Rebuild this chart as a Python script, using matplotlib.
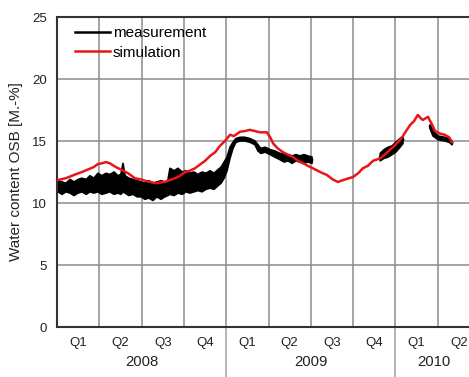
import numpy as np
import matplotlib
matplotlib.use("Agg")
import matplotlib.pyplot as plt
from matplotlib.transforms import blended_transform_factory

plt.rcParams['font.family'] = ['Liberation Sans', 'DejaVu Sans']

# x positions are in quarters, counted from the start of 2008
# measurement: noisy band, given as lower / upper envelope (NaN = gap)
meas_q = [0.02, 0.12, 0.21, 0.31, 0.40, 0.50, 0.59, 0.69, 0.78, 0.87, 0.97, 1.06,
          1.16, 1.25, 1.35, 1.44, 1.51, 1.56, 1.61, 1.70, 1.80, 1.89, 1.99, 2.08,
          2.17, 2.27, 2.36, 2.46, 2.55, 2.62, 2.67, 2.77, 2.86, 2.96, 3.05, 3.14,
          3.24, 3.33, 3.43, 3.52, 3.62, 3.71, 3.81, 3.88, 3.95, 4.02, 4.09, 4.16,
          4.23, 4.33, 4.44, 4.56, 4.68, 4.75, 4.82, 4.92, 5.04, 5.15, 5.27, 5.37,
          5.46, 5.56, 5.65, 5.74, 5.84, 5.93, 6.03, 6.04,
          7.63, 7.64, 7.73, 7.83, 7.92, 8.01, 8.11, 8.18, 8.19,
          8.81, 8.82, 8.89, 9.01, 9.17, 9.27, 9.34]
meas_lo = [10.9, 10.7, 10.9, 10.8, 10.6, 10.8, 10.9, 10.7, 10.9, 10.8, 10.9, 10.7,
           10.8, 10.9, 10.7, 10.8, 10.7, 10.9, 10.8, 10.6, 10.7, 10.5, 10.5, 10.3,
           10.4, 10.2, 10.5, 10.3, 10.5, 10.6, 10.7, 10.6, 10.8, 10.7, 10.9, 10.8,
           10.9, 11.0, 10.9, 11.1, 11.2, 11.1, 11.4, 11.6, 12.0, 12.6, 13.6, 14.4,
           14.9, 15.0, 15.0, 14.9, 14.7, 14.2, 14.0, 14.1, 13.9, 13.7, 13.5, 13.3,
           13.4, 13.2, 13.4, 13.3, 13.2, 13.3, 13.2, np.nan,
           np.nan, 13.4, 13.6, 13.7, 13.9, 14.1, 14.5, 14.8, np.nan,
           np.nan, 16.0, 15.4, 15.1, 15.0, 14.9, 14.7]
meas_hi = [11.8, 11.7, 11.6, 11.9, 11.7, 11.9, 12.0, 11.9, 12.2, 12.0, 12.4, 12.2,
           12.4, 12.3, 12.5, 12.2, 12.3, 13.2, 12.2, 12.0, 11.9, 11.8, 11.7, 11.6,
           11.8, 11.6, 11.7, 11.8, 11.7, 11.8, 12.8, 12.6, 12.8, 12.5, 12.6, 12.4,
           12.5, 12.3, 12.5, 12.4, 12.6, 12.4, 12.7, 12.9, 13.3, 13.7, 14.5, 14.9,
           15.2, 15.3, 15.3, 15.2, 15.0, 14.7, 14.4, 14.5, 14.3, 14.2, 14.0, 14.0,
           13.9, 13.8, 13.9, 13.8, 13.9, 13.8, 13.7, np.nan,
           np.nan, 14.0, 14.3, 14.5, 14.6, 14.9, 15.2, 15.4, np.nan,
           np.nan, 16.3, 15.8, 15.4, 15.3, 15.2, 15.0]

sim_q = [0.02, 0.21, 0.43, 0.59, 0.73, 0.87, 0.97, 1.06, 1.16, 1.25, 1.39, 1.54,
         1.68, 1.84, 1.99, 2.08, 2.20, 2.32, 2.43, 2.55, 2.67, 2.79, 2.91, 3.03,
         3.14, 3.26, 3.38, 3.50, 3.62, 3.74, 3.85, 3.97, 4.09, 4.18, 4.33, 4.44,
         4.56, 4.68, 4.80, 4.96, 5.04, 5.11, 5.22, 5.34, 5.46, 5.58, 5.70, 5.82,
         5.93, 6.05, 6.22, 6.38, 6.52, 6.64, 6.81, 7.00, 7.12, 7.23, 7.35, 7.47,
         7.64, 7.78, 7.94, 8.06, 8.16, 8.25, 8.35, 8.44, 8.53, 8.61, 8.65, 8.77,
         8.87, 8.94, 9.05, 9.17, 9.27, 9.34]
sim_val = [11.85, 12.0, 12.3, 12.5, 12.7, 12.9, 13.15, 13.2, 13.3, 13.2, 12.9, 12.65,
           12.4, 12.0, 11.9, 11.8, 11.7, 11.6, 11.65, 11.7, 11.85, 12.0, 12.2, 12.5,
           12.6, 12.8, 13.1, 13.4, 13.8, 14.1, 14.6, 15.0, 15.5, 15.4, 15.75, 15.8,
           15.9, 15.8, 15.7, 15.7, 15.3, 14.8, 14.4, 14.1, 13.9, 13.7, 13.4, 13.2,
           13.0, 12.8, 12.5, 12.26, 11.9, 11.7, 11.9, 12.1, 12.4, 12.8, 13.0, 13.4,
           13.6, 14.0, 14.5, 14.9, 15.3, 15.8, 16.3, 16.6, 17.1, 16.8, 16.7, 16.95,
           16.3, 15.8, 15.6, 15.5, 15.3, 14.9]

quarter_labels = ['Q1', 'Q2', 'Q3', 'Q4', 'Q1', 'Q2', 'Q3', 'Q4', 'Q1', 'Q2']
years = ['2008', '2009', '2010']
year_pos = [2.0, 6.0, 8.9]
yticks = [0, 5, 10, 15, 20, 25]

fig = plt.figure(figsize=(4.69, 3.77), dpi=100)
ax = fig.add_axes([57 / 469, 1 - 327 / 377, 1 - 57 / 469, 310 / 377])

grid_c = '#8c8c8c'
for q in range(1, 10):
    ax.axvline(q, color=grid_c, lw=1.1, zorder=1)
for v in yticks[1:-1]:
    ax.axhline(v, color=grid_c, lw=1.1, zorder=1)

mq = np.array(meas_q)
lo = np.array(meas_lo)
hi = np.array(meas_hi)
ax.fill_between(mq, lo, hi, color='black', lw=1.2, edgecolor='black', zorder=2)
ax.plot(mq, (lo + hi) / 2, color='black', lw=1.8, zorder=2, label='measurement')
ax.plot(sim_q, sim_val, color='#e8161b', lw=1.8, zorder=3, label='simulation')

ax.set_xlim(0, 412 / 42.3)
ax.set_ylim(0, 25)
ax.set_yticks(yticks)
ax.set_xticks(np.arange(len(quarter_labels)) + 0.5)
ax.set_xticklabels(quarter_labels)
ax.tick_params(axis='both', length=0, labelsize=9.5, colors='#222222')
ax.tick_params(axis='x', pad=7)
ax.tick_params(axis='y', pad=7)

for s in ['left', 'bottom', 'top']:
    ax.spines[s].set_color('#333333')
    ax.spines[s].set_linewidth(1.5)
ax.spines['right'].set_visible(False)

ax.set_ylabel('Water content OSB [M.-%]', fontsize=11, color='#222222', labelpad=7)

trans = blended_transform_factory(ax.transData, ax.transAxes)
for q in [4, 8]:
    ax.plot([q, q], [0, -0.17], transform=trans, color='#a0a0a0', lw=1.1,
            clip_on=False)
for yr, p in zip(years, year_pos):
    ax.text(p, -0.113, yr, transform=trans, ha='center', va='center',
            fontsize=10.7, color='#222222')

ax.legend(loc='upper left', bbox_to_anchor=(0.028, 0.99), frameon=False,
          fontsize=11, handlelength=2.3, handletextpad=0.2, labelspacing=0.35,
          borderaxespad=0.0, borderpad=0.4)

fig.savefig('out.png', dpi=100)
